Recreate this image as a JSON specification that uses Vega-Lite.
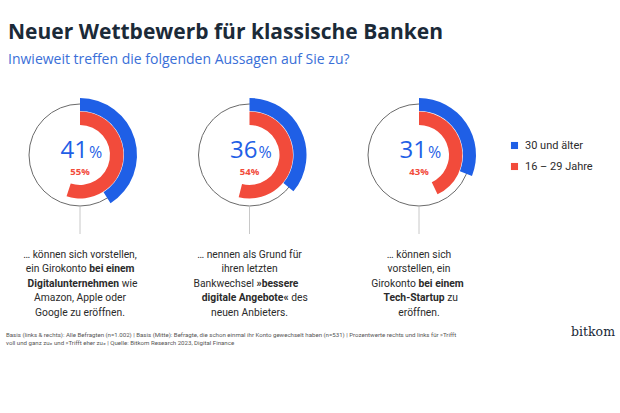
{
  "$schema": "https://vega.github.io/schema/vega-lite/v6.json",
  "width": 620,
  "height": 413,
  "autosize": "none",
  "padding": 0,
  "background": "white",
  "title": {
    "text": "Neuer Wettbewerb für klassische Banken",
    "subtitle": "Inwieweit treffen die folgenden Aussagen auf Sie zu?",
    "anchor": "start",
    "frame": "group",
    "orient": "top",
    "offset": -67,
    "dx": 8,
    "font": "Open Sans",
    "fontSize": 21,
    "fontWeight": "bold",
    "color": "#1b2a38",
    "subtitleFont": "Open Sans",
    "subtitleFontSize": 14,
    "subtitleColor": "#3a6fd8",
    "subtitlePadding": 10
  },
  "config": {"view": {"stroke": null}},
  "datasets": {
    "shares": [
      {"q": "A", "group": "30 und älter", "v": 41},
      {"q": "A", "group": "16 – 29 Jahre", "v": 55},
      {"q": "B", "group": "30 und älter", "v": 36},
      {"q": "B", "group": "16 – 29 Jahre", "v": 54},
      {"q": "C", "group": "30 und älter", "v": 31},
      {"q": "C", "group": "16 – 29 Jahre", "v": 43}
    ],
    "lines": [
      {"q": "A", "line": 1, "a": "… können sich vorstellen,", "b": "", "bold": "none"},
      {"q": "A", "line": 2, "a": "ein Girokonto", "b": "bei einem", "bold": "b"},
      {"q": "A", "line": 3, "a": "Digitalunternehmen", "b": "wie", "bold": "a"},
      {"q": "A", "line": 4, "a": "Amazon, Apple oder", "b": "", "bold": "none"},
      {"q": "A", "line": 5, "a": "Google zu eröffnen.", "b": "", "bold": "none"},
      {"q": "B", "line": 1, "a": "… nennen als Grund für", "b": "", "bold": "none"},
      {"q": "B", "line": 2, "a": "ihren letzten", "b": "", "bold": "none"},
      {"q": "B", "line": 3, "a": "Bankwechsel", "b": "»bessere", "bold": "b"},
      {"q": "B", "line": 4, "a": "digitale Angebote«", "b": "des", "bold": "a"},
      {"q": "B", "line": 5, "a": "neuen Anbieters.", "b": "", "bold": "none"},
      {"q": "C", "line": 1, "a": "… können sich", "b": "", "bold": "none"},
      {"q": "C", "line": 2, "a": "vorstellen, ein", "b": "", "bold": "none"},
      {"q": "C", "line": 3, "a": "Girokonto", "b": "bei einem", "bold": "b"},
      {"q": "C", "line": 4, "a": "Tech-Startup", "b": "zu", "bold": "a"},
      {"q": "C", "line": 5, "a": "eröffnen.", "b": "", "bold": "none"}
    ]
  },
  "layer": [
    {
      "data": {"name": "shares"},
      "transform": [{"filter": "datum.group == '30 und älter'"}],
      "mark": {"type": "point", "shape": "circle", "size": 10404, "filled": false, "stroke": "#6b6b6b", "strokeWidth": 1, "opacity": 1},
      "encoding": {
        "x": {"field": "q", "type": "nominal", "scale": {"type": "point", "domain": ["A", "B", "C"], "range": [80, 419], "padding": 0}, "axis": null},
        "y": {"value": 155}
      }
    },
    {
      "data": {"name": "shares"},
      "transform": [{"filter": "datum.group == '30 und älter'"}],
      "mark": {"type": "rule", "stroke": "#c8c8c8", "strokeWidth": 1},
      "encoding": {"x": {"field": "q", "type": "nominal"}, "y": {"value": 207}, "y2": {"value": 234}}
    },
    {
      "data": {"name": "shares"},
      "transform": [{"filter": "datum.group == '16 – 29 Jahre'"}],
      "mark": {"type": "arc", "innerRadius": 30, "outerRadius": 43.5},
      "encoding": {
        "x": {"field": "q", "type": "nominal"},
        "y": {"value": 155},
        "theta": {"field": "v", "type": "quantitative", "stack": null, "scale": {"domain": [0, 100], "range": [0, 6.283185]}},
        "color": {"field": "group", "type": "nominal", "scale": {"domain": ["30 und älter", "16 – 29 Jahre"], "range": ["#1f5fe6", "#f24b3b"]},
          "legend": {"orient": "none", "legendX": 509, "legendY": 140, "title": null, "symbolType": "square", "symbolSize": 50, "symbolStrokeWidth": 0, "labelFont": "Roboto", "labelFontSize": 11, "labelColor": "#2b2b2b", "labelOffset": 5, "rowPadding": 9, "padding": 0}}
      }
    },
    {
      "data": {"name": "shares"},
      "transform": [{"filter": "datum.group == '30 und älter'"}],
      "mark": {"type": "arc", "innerRadius": 44, "outerRadius": 57},
      "encoding": {
        "x": {"field": "q", "type": "nominal"},
        "y": {"value": 155},
        "theta": {"field": "v", "type": "quantitative", "stack": null},
        "color": {"field": "group", "type": "nominal"}
      }
    },
    {
      "data": {"name": "shares"},
      "transform": [{"filter": "datum.group == '30 und älter'"}],
      "mark": {"type": "text", "align": "right", "baseline": "alphabetic", "dx": 8, "font": "Open Sans", "fontSize": 24, "color": "#1f5fe6"},
      "encoding": {"x": {"field": "q", "type": "nominal"}, "y": {"value": 158}, "text": {"field": "v"}}
    },
    {
      "data": {"name": "shares"},
      "transform": [{"filter": "datum.group == '30 und älter'"}],
      "mark": {"type": "text", "align": "left", "baseline": "alphabetic", "dx": 9, "font": "Open Sans", "fontSize": 16, "color": "#1f5fe6"},
      "encoding": {"x": {"field": "q", "type": "nominal"}, "y": {"value": 158}, "text": {"value": "%"}}
    },
    {
      "data": {"name": "shares"},
      "transform": [{"filter": "datum.group == '16 – 29 Jahre'"}, {"calculate": "datum.v + '%'", "as": "lbl"}],
      "mark": {"type": "text", "align": "center", "baseline": "alphabetic", "font": "Open Sans", "fontSize": 9.5, "fontWeight": "bold", "color": "#f24b3b"},
      "encoding": {"x": {"field": "q", "type": "nominal"}, "y": {"value": 175}, "text": {"field": "lbl"}}
    },
    {
      "data": {"name": "lines"},
      "transform": [{"filter": "datum.bold == 'none'"}],
      "mark": {"type": "text", "align": "center", "baseline": "middle", "font": "Roboto", "fontSize": 10.3, "color": "#2b2b2b"},
      "encoding": {"x": {"field": "q", "type": "nominal"}, "y": {"field": "line", "type": "quantitative", "scale": {"domain": [1, 5], "range": [254.5, 313]}, "axis": null}, "text": {"field": "a"}}
    },
    {
      "data": {"name": "lines"},
      "transform": [{"filter": "datum.bold == 'b'"}],
      "mark": {"type": "text", "align": "right", "baseline": "middle", "font": "Roboto", "fontSize": 10.3, "color": "#2b2b2b",
        "dx": {"expr": "(length(datum.a)*(datum.bold=='a'?5.3:4.9) - length(datum.b)*(datum.bold=='b'?5.3:4.9) - 2.6)/2"}},
      "encoding": {"x": {"field": "q", "type": "nominal"}, "y": {"field": "line", "type": "quantitative"}, "text": {"field": "a"}}
    },
    {
      "data": {"name": "lines"},
      "transform": [{"filter": "datum.bold == 'a'"}],
      "mark": {"type": "text", "align": "right", "baseline": "middle", "font": "Roboto", "fontSize": 10.3, "fontWeight": "bold", "color": "#2b2b2b",
        "dx": {"expr": "(length(datum.a)*(datum.bold=='a'?5.3:4.9) - length(datum.b)*(datum.bold=='b'?5.3:4.9) - 2.6)/2"}},
      "encoding": {"x": {"field": "q", "type": "nominal"}, "y": {"field": "line", "type": "quantitative"}, "text": {"field": "a"}}
    },
    {
      "data": {"name": "lines"},
      "transform": [{"filter": "datum.bold == 'b'"}],
      "mark": {"type": "text", "align": "left", "baseline": "middle", "font": "Roboto", "fontSize": 10.3, "fontWeight": "bold", "color": "#2b2b2b",
        "dx": {"expr": "(length(datum.a)*(datum.bold=='a'?5.3:4.9) - length(datum.b)*(datum.bold=='b'?5.3:4.9) + 2.6)/2"}},
      "encoding": {"x": {"field": "q", "type": "nominal"}, "y": {"field": "line", "type": "quantitative"}, "text": {"field": "b"}}
    },
    {
      "data": {"name": "lines"},
      "transform": [{"filter": "datum.bold == 'a'"}],
      "mark": {"type": "text", "align": "left", "baseline": "middle", "font": "Roboto", "fontSize": 10.3, "color": "#2b2b2b",
        "dx": {"expr": "(length(datum.a)*(datum.bold=='a'?5.3:4.9) - length(datum.b)*(datum.bold=='b'?5.3:4.9) + 2.6)/2"}},
      "encoding": {"x": {"field": "q", "type": "nominal"}, "y": {"field": "line", "type": "quantitative"}, "text": {"field": "b"}}
    },
    {
      "data": {"values": [{"note": "Basis (links & rechts): Alle Befragten (n=1.002) | Basis (Mitte): Befragte, die schon einmal ihr Konto gewechselt haben (n=531) | Prozentwerte rechts und links für »Trifft\nvoll und ganz zu« und »Trifft eher zu« | Quelle: Bitkom Research 2023, Digital Finance"}]},
      "mark": {"type": "text", "align": "left", "baseline": "alphabetic", "lineBreak": "\n", "font": "Roboto", "fontSize": 6.1, "lineHeight": 7.5, "color": "#555555"},
      "encoding": {"x": {"value": 6}, "y": {"value": 337}, "text": {"field": "note"}}
    },
    {
      "data": {"values": [{"logo": "bitkom"}]},
      "mark": {"type": "text", "align": "right", "baseline": "alphabetic", "font": "DejaVu Serif", "fontSize": 12.5, "color": "#1b2a38"},
      "encoding": {"x": {"value": 615}, "y": {"value": 336}, "text": {"field": "logo"}}
    }
  ]
}
